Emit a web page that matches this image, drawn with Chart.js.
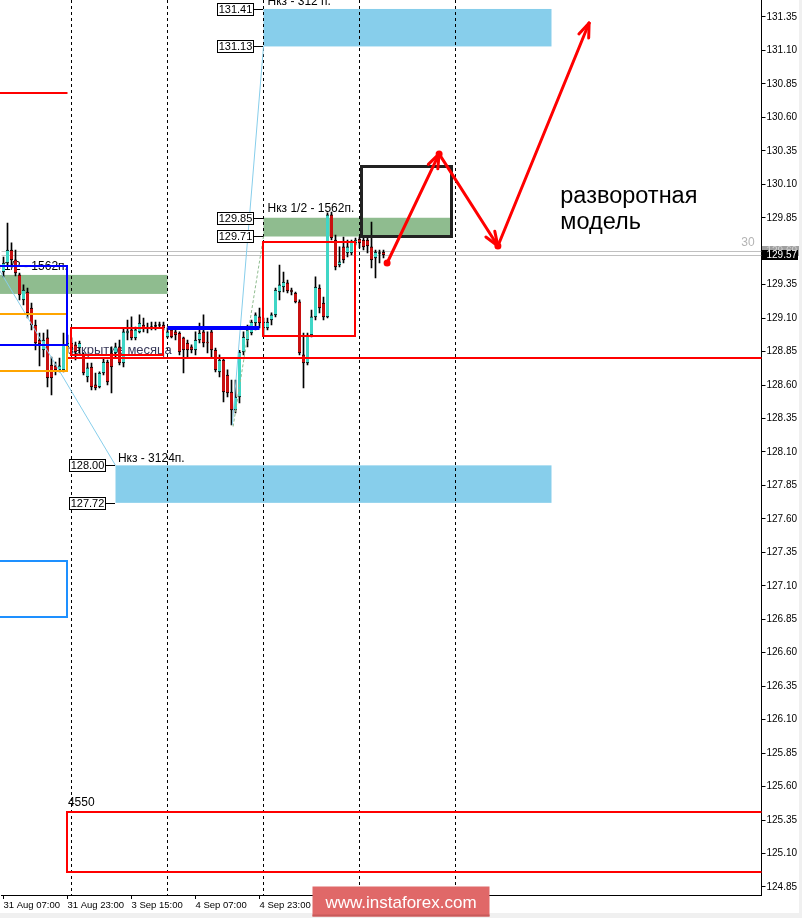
<!DOCTYPE html>
<html><head><meta charset="utf-8">
<script src="https://cdn.jsdelivr.net/npm/chart.js@4.4.1/dist/chart.umd.min.js"></script>
<style>html,body{margin:0;padding:0;background:#fff;overflow:hidden}</style>
</head><body>
<canvas id="c" width="802" height="918" style="display:block;width:802px;height:918px"></canvas>
<script>
// ---------- DATA ----------
const candleOpen = [129.445,129.512,129.609,129.535,129.423,129.236,129.295,129.176,129.049,128.937,
128.862,128.952,128.750,128.743,128.713,128.713,128.885,128.914,128.900,128.877,
128.825,128.660,128.735,128.601,128.586,128.690,128.772,128.840,128.840,128.885,
128.765,128.989,129.012,128.952,128.997,129.049,129.027,129.034,129.042,129.049,
129.049,128.959,129.012,128.997,128.989,128.952,128.914,128.885,128.862,128.937,
128.997,128.922,128.997,128.862,128.698,128.787,128.675,128.548,128.414,128.511,
128.847,128.937,128.989,129.064,129.109,129.027,129.027,129.086,129.124,129.295,
129.333,129.363,129.310,129.288,129.221,128.825,128.765,128.974,129.109,129.325,
129.213,129.109,129.871,129.684,129.497,129.632,129.587,129.587,129.662,129.691,
129.684,129.684,129.632,129.550,129.587,129.594];
const candleHigh = [129.557,129.811,129.662,129.609,129.437,129.348,129.325,129.213,129.086,128.989,
128.989,129.012,128.810,128.772,128.802,128.989,128.974,128.952,128.922,128.929,
128.840,128.765,128.765,128.690,128.698,128.802,128.787,128.885,128.914,128.937,
129.027,129.086,129.109,129.034,129.124,129.101,129.064,129.071,129.071,129.071,
129.071,129.027,129.027,129.012,128.997,128.959,128.937,128.900,128.997,129.064,
129.124,128.997,129.012,128.877,128.825,128.802,128.713,128.638,128.638,128.860,
128.997,129.049,129.086,129.139,129.176,129.101,129.101,129.139,129.325,129.497,
129.445,129.385,129.325,129.295,129.236,128.989,128.989,129.161,129.408,129.348,
129.258,129.886,129.893,129.721,129.632,129.706,129.684,129.684,129.699,129.706,
129.699,129.699,129.818,129.609,129.609,129.609];
const candleLow = [129.408,129.497,129.482,129.415,129.236,129.198,129.101,129.012,128.862,128.743,
128.810,128.586,128.526,128.675,128.698,128.698,128.847,128.847,128.787,128.840,
128.675,128.623,128.563,128.563,128.578,128.675,128.601,128.541,128.810,128.750,
128.735,128.937,128.937,128.937,128.989,128.997,128.989,129.012,129.012,129.034,
129.012,128.952,128.952,128.937,128.825,128.690,128.810,128.840,128.825,128.914,
128.885,128.840,128.802,128.698,128.660,128.474,128.511,128.302,128.392,128.466,
128.825,128.885,128.974,129.012,129.027,128.974,129.012,129.049,129.109,129.236,
129.295,129.288,129.273,129.213,128.825,128.578,128.750,128.959,129.086,129.139,
129.086,129.101,129.684,129.460,129.482,129.512,129.557,129.572,129.647,129.624,
129.609,129.587,129.475,129.400,129.512,129.550];
const candleClose = [129.512,129.609,129.535,129.437,129.273,129.310,129.139,129.049,128.914,128.907,
128.937,128.653,128.653,128.713,128.743,128.900,128.914,128.877,128.847,128.914,
128.690,128.728,128.586,128.578,128.690,128.772,128.623,128.735,128.885,128.765,
128.997,129.004,128.952,129.012,129.064,129.027,129.030,129.034,129.042,129.049,
129.027,128.997,128.959,128.974,128.847,128.862,128.862,128.862,128.937,128.989,
128.914,128.914,128.862,128.713,128.787,128.548,128.541,128.414,128.511,128.847,
128.959,129.012,129.071,129.124,129.064,129.071,129.071,129.124,129.310,129.348,
129.370,129.303,129.295,129.221,128.840,128.765,128.974,129.109,129.333,129.176,
129.109,129.871,129.699,129.482,129.520,129.535,129.632,129.669,129.684,129.662,
129.632,129.639,129.535,129.594,129.587,129.572];
const slotCount = 190;                       // hourly slots on the time axis
const timeTickIndex = [0, 16, 32, 48, 64];
const timeTickText = ['31 Aug 07:00', '31 Aug 23:00', '3 Sep 15:00', '4 Sep 07:00', '4 Sep 23:00'];
const priceTicks = [124.85,125.10,125.35,125.60,125.85,126.10,126.35,126.60,126.85,127.10,127.35,127.60,127.85,
128.10,128.35,128.60,128.85,129.10,129.35,129.60,129.85,130.10,130.35,130.60,130.85,131.10,131.35];
const daySeparators = [17, 41, 65, 89, 113];
const bidPrice = 129.57, askPrice = 129.60;
const priceMin = 124.790, priceMax = 131.477;

// ---------- ANNOTATIONS ----------
const fillZones = [
  {from: 65, to: 137, top: 131.41, bottom: 131.13, color: '#87ceeb'},
  {from: 28, to: 137, top: 128.00, bottom: 127.72, color: '#87ceeb'},
  {from: 65, to: 112, top: 129.85, bottom: 129.71, color: '#8fbc8f'},
  {from: -2, to: 41, top: 129.423, bottom: 129.281, color: '#8fbc8f'}
];
const outlineBoxes = [
  {from: -2, to: 16, top: 129.131, bottom: 128.705, color: '#ffa500', w: 2},
  {from: -2, to: 16, top: 129.490, bottom: 128.900, color: '#0000ff', w: 2},
  {from: -2, to: 16, top: 127.286, bottom: 126.867, color: '#1e90ff', w: 2},
  {from: 17, to: 40, top: 129.027, bottom: 128.825, color: '#ff0000', w: 2},
  {from: 65, to: 88, top: 129.67, bottom: 128.97, color: '#ff0000', w: 2},
  {from: 16, to: 200, top: 125.413, bottom: 124.964, color: '#ff0000', w: 2},
  {from: 89.4, to: 112, top: 130.233, bottom: 129.710, color: '#222222', w: 3}
];
const levelLines = [
  {from: -2, to: 16, price: 130.782, color: '#ff0000', w: 2},
  {from: 16, to: 200, price: 128.80, color: '#ff0000', w: 2},
  {from: 41, to: 64, price: 129.027, color: '#0000ff', w: 4}
];
const trendLines = [
  {a: [-1, 129.458], b: [28, 128.00], color: '#87ceeb', dash: []},
  {a: [57.2, 128.302], b: [65, 131.13], color: '#87ceeb', dash: []},
  {a: [57.4, 128.29], b: [65, 129.71], color: '#8fbc8f', dash: [3, 2]}
];
const arrowPath = [[95.9, 129.512], [108.9, 130.327], [123.6, 129.639], [146.4, 131.305]];
const levelTags = [
  {text: '131.41', idx: 65, price: 131.41}, {text: '131.13', idx: 65, price: 131.13},
  {text: '129.85', idx: 65, price: 129.85}, {text: '129.71', idx: 65, price: 129.71},
  {text: '128.00', idx: 28, price: 128.00}, {text: '127.72', idx: 28, price: 127.72}
];
const chartTexts = [
  {text: 'Нкз - 312 п.', idx: 66, price: 131.437, size: 12, color: '#000', align: 'left'},
  {text: 'Нкз 1/2 - 1562п.', idx: 66, price: 129.893, size: 12, color: '#000', align: 'left'},
  {text: 'Нкз 1/2 - 1562п.', idx: 16.1, price: 129.46, size: 12, color: '#000', align: 'right'},
  {text: 'Нкз - 3124п.', idx: 28.6, price: 128.025, size: 12, color: '#000', align: 'left'},
  {text: 'закрытие месяца', idx: 16.1, price: 128.830, size: 13, color: '#3a3a5a', align: 'left'},
  {text: '4550', idx: 16.1, price: 125.455, size: 12, color: '#000', align: 'left'},
  {text: '30', idx: 187.8, price: 129.636, size: 12, color: '#b4b4b4', align: 'right'},
  {text: 'разворотная', idx: 139.2, price: 129.960, size: 23.5, color: '#000', align: 'left'},
  {text: 'модель', idx: 139.2, price: 129.765, size: 23.5, color: '#000', align: 'left'}
];

// ---------- BUILD ----------
const FONT = '"Liberation Sans", Arial, sans-serif';
const slotLabels = Array.from({length: slotCount}, (_, i) => String(i));
const wickData = [], bodyData = [], bodyColors = [];
for (let i = 0; i < slotCount; i++) {
  if (i < candleOpen.length) {
    const o = candleOpen[i], c = candleClose[i];
    wickData.push([candleLow[i], candleHigh[i]]);
    if (Math.abs(o - c) < 0.004) {
      bodyData.push([c - 0.0035, c + 0.0035]); bodyColors.push('#000000');
    } else {
      bodyData.push([Math.min(o, c), Math.max(o, c)]);
      bodyColors.push(c > o ? '#3fd6c6' : '#c81010');
    }
  } else { wickData.push(null); bodyData.push(null); bodyColors.push('#000'); }
}

const overlay = {
  id: 'overlay',
  beforeDatasetsDraw(chart) {
    const {ctx, chartArea: a, scales: {x, y}} = chart;
    const X = i => x.getPixelForValue(i), Y = p => y.getPixelForValue(p);
    ctx.save();
    ctx.beginPath(); ctx.rect(a.left - 2, a.top, a.right - a.left + 2, a.bottom - a.top); ctx.clip();
    for (const z of fillZones) {
      ctx.fillStyle = z.color;
      ctx.fillRect(X(z.from), Y(z.top), X(z.to) - X(z.from), Y(z.bottom) - Y(z.top));
    }
    ctx.strokeStyle = '#000'; ctx.lineWidth = 1; ctx.setLineDash([3, 3]);
    for (const s of daySeparators) {
      const px = Math.floor(X(s)) + 0.5;
      ctx.beginPath(); ctx.moveTo(px, a.top); ctx.lineTo(px, a.bottom); ctx.stroke();
    }
    ctx.setLineDash([]);
    ctx.strokeStyle = '#c0c0c0';
    for (const p of [askPrice, bidPrice]) {
      const py = Math.round(Y(p)) + 0.5;
      ctx.beginPath(); ctx.moveTo(a.left, py); ctx.lineTo(a.right, py); ctx.stroke();
    }
    for (const t of chartTexts) {
      ctx.font = t.size + 'px ' + FONT; ctx.fillStyle = t.color;
      ctx.textAlign = t.align; ctx.textBaseline = 'alphabetic';
      ctx.fillText(t.text, X(t.idx), Y(t.price));
    }
    ctx.restore();
  },
  afterDatasetsDraw(chart) {
    const {ctx, chartArea: a, scales: {x, y}} = chart;
    const X = i => x.getPixelForValue(i), Y = p => y.getPixelForValue(p);
    ctx.save();
    ctx.beginPath(); ctx.rect(a.left - 2, a.top, a.right - a.left + 2, a.bottom - a.top); ctx.clip();
    for (const t of trendLines) {
      ctx.strokeStyle = t.color; ctx.lineWidth = 1; ctx.setLineDash(t.dash);
      ctx.beginPath(); ctx.moveTo(X(t.a[0]), Y(t.a[1])); ctx.lineTo(X(t.b[0]), Y(t.b[1])); ctx.stroke();
    }
    ctx.setLineDash([]);
    for (const l of levelLines) {
      ctx.strokeStyle = l.color; ctx.lineWidth = l.w;
      const py = Math.round(Y(l.price));
      ctx.beginPath(); ctx.moveTo(X(l.from), py); ctx.lineTo(X(l.to), py); ctx.stroke();
    }
    for (const b of outlineBoxes) {
      ctx.strokeStyle = b.color; ctx.lineWidth = b.w;
      const off = b.w % 2 ? 0.5 : 0;
      const x1 = Math.floor(X(b.from)) + off, x2 = Math.floor(X(b.to)) + off;
      const y1 = Math.round(Y(b.top)) + off, y2 = Math.round(Y(b.bottom)) + off;
      ctx.strokeRect(x1, y1, x2 - x1, y2 - y1);
    }
    // arrows
    ctx.strokeStyle = '#ff0000'; ctx.fillStyle = '#ff0000'; ctx.lineWidth = 3; ctx.lineCap = 'round';
    const pts = arrowPath.map(p => [X(p[0]), Y(p[1])]);
    for (let k = 1; k < pts.length; k++) {
      const [x0, y0] = pts[k - 1], [x1, y1] = pts[k];
      ctx.beginPath(); ctx.moveTo(x0, y0); ctx.lineTo(x1, y1); ctx.stroke();
      const ang = Math.atan2(y1 - y0, x1 - x0);
      for (const d of [-0.36, 0.36]) {
        ctx.beginPath(); ctx.moveTo(x1, y1);
        ctx.lineTo(x1 - 15 * Math.cos(ang + d), y1 - 15 * Math.sin(ang + d)); ctx.stroke();
      }
    }
    for (let k = 0; k < 3; k++) { ctx.beginPath(); ctx.arc(pts[k][0], pts[k][1], 3.5, 0, Math.PI * 2); ctx.fill(); }
    ctx.lineCap = 'butt';
    // level tags
    ctx.font = '11px ' + FONT; ctx.textAlign = 'center'; ctx.textBaseline = 'middle';
    for (const t of levelTags) {
      const ax = Math.floor(X(t.idx)), ay = Math.round(Y(t.price));
      const w = 36, h = 12, right = ax - 10;
      ctx.fillStyle = '#fff'; ctx.fillRect(right - w, ay - h / 2, w, h);
      ctx.strokeStyle = '#000'; ctx.lineWidth = 1;
      ctx.strokeRect(right - w + 0.5, ay - h / 2 + 0.5, w, h);
      ctx.beginPath(); ctx.moveTo(right, ay + 0.5); ctx.lineTo(ax, ay + 0.5); ctx.stroke();
      ctx.fillStyle = '#000'; ctx.fillText(t.text, right - w / 2 + 0.5, ay + 1);
    }
    ctx.restore();
  },
  afterDraw(chart) {
    const {ctx, chartArea: a, scales: {y}} = chart;
    ctx.save();
    // price tags on axis
    ctx.font = '10px ' + FONT; ctx.textAlign = 'left'; ctx.textBaseline = 'middle';
    const ay = Math.round(y.getPixelForValue(askPrice)), by = Math.round(y.getPixelForValue(bidPrice));
    ctx.fillStyle = '#a0a0a0'; ctx.fillRect(a.right + 0.5, ay - 5, 38, 10);
    ctx.fillStyle = '#d0d0d0'; ctx.fillText('129.60', a.right + 5, ay);
    ctx.fillStyle = '#000'; ctx.fillRect(a.right + 0.5, by - 5, 36, 10);
    ctx.fillStyle = '#fff'; ctx.fillText(bidPrice.toFixed(2), a.right + 5, by + 0.5);
    // frame strips
    ctx.fillStyle = '#f0f0f0'; ctx.fillRect(0, 913, 802, 5); ctx.fillRect(799, 0, 3, 918);
    // watermark
    ctx.fillStyle = '#e06868'; ctx.fillRect(312.5, 886.5, 177, 30);
    ctx.fillStyle = '#c85a5a'; ctx.fillRect(312.5, 914.5, 177, 2);
    ctx.fillStyle = '#fff'; ctx.font = '17px ' + FONT; ctx.textAlign = 'center'; ctx.textBaseline = 'alphabetic';
    ctx.fillText('www.instaforex.com', 401, 908);
    ctx.restore();
  }
};

Chart.defaults.font.family = FONT;
new Chart(document.getElementById('c'), {
  type: 'bar',
  data: {
    labels: slotLabels,
    datasets: [
      {data: bodyData, backgroundColor: bodyColors, borderColor: '#000000',
       borderWidth: {top: 1, bottom: 1, left: 0, right: 0}, borderSkipped: false,
       barThickness: 3, grouped: false, order: 1},
      {data: wickData, backgroundColor: '#000000', borderWidth: 0, barThickness: 1, grouped: false, order: 2}
    ]
  },
  options: {
    responsive: false, animation: false, devicePixelRatio: 1,
    layout: {padding: {left: 1.5, right: 0, top: 0, bottom: 0}},
    plugins: {legend: {display: false}, tooltip: {enabled: false}},
    scales: {
      x: {
        type: 'category', offset: true,
        grid: {display: true, drawOnChartArea: false, offset: false, tickLength: 4, color: '#000'},
        border: {color: '#000', width: 1},
        ticks: {autoSkip: false, maxRotation: 0, minRotation: 0, align: 'start', padding: 1, color: '#000',
          font: {size: 9.5},
          callback: v => { const k = timeTickIndex.indexOf(v); return k >= 0 ? timeTickText[k] : ''; }},
        afterBuildTicks: s => { s.ticks = timeTickIndex.map(v => ({value: v})); },
        afterFit: s => { s.height = 23; s.paddingLeft = 0; s.paddingRight = 0; }
      },
      y: {
        type: 'linear', position: 'right', min: priceMin, max: priceMax,
        grid: {display: true, drawOnChartArea: false, tickLength: 4, color: '#000'},
        border: {color: '#000', width: 1},
        ticks: {padding: 1, color: '#000', font: {size: 10}, autoSkip: false, callback: v => Number(v).toFixed(2)},
        afterBuildTicks: s => { s.ticks = priceTicks.map(v => ({value: v})); },
        afterFit: s => { s.width = 40.5; s.paddingTop = 0; s.paddingBottom = 0; }
      }
    }
  },
  plugins: [overlay]
});
</script>
</body></html>
